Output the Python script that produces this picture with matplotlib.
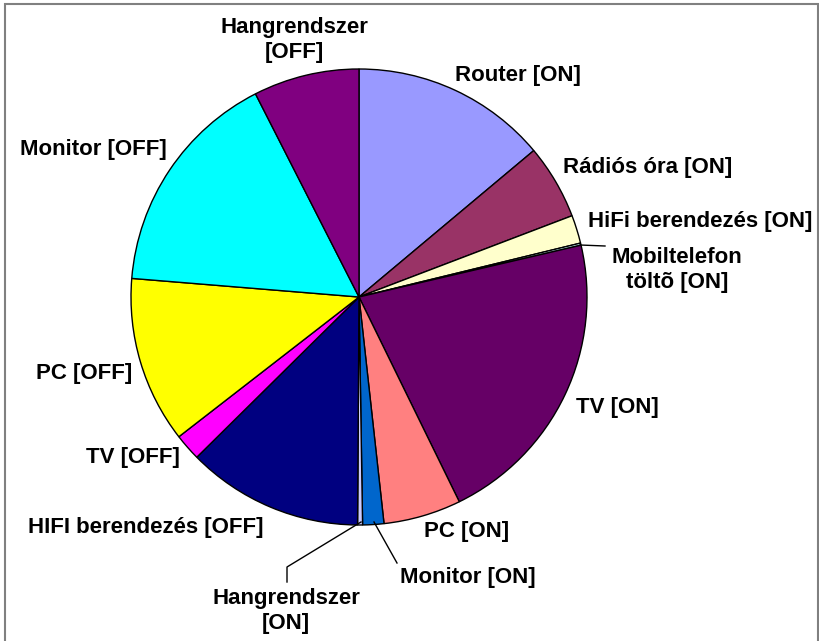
import matplotlib
matplotlib.use("Agg")
from matplotlib import pyplot as plt
from matplotlib.patches import Rectangle

plt.rcParams["font.family"] = ["Liberation Sans", "DejaVu Sans"]

# slices, clockwise from 12 o'clock (percent)
labels = ["Router [ON]", "Rádiós óra [ON]", "HiFi berendezés [ON]", "Mobiltelefon\ntöltõ [ON]",
          "TV [ON]", "PC [ON]", "Monitor [ON]", "Hangrendszer\n[ON]",
          "HIFI berendezés [OFF]", "TV [OFF]", "PC [OFF]", "Monitor [OFF]", "Hangrendszer\n[OFF]"]
values = [13.9, 5.3, 2.0, 0.15, 21.4, 5.5, 1.5, 0.35, 12.5, 1.9, 11.8, 16.2, 7.5]
colors = ["#9999ff", "#993366", "#ffffcc", "#ccffff", "#660066", "#ff8080", "#0066cc",
          "#ccccff", "#000080", "#ff00ff", "#ffff00", "#00ffff", "#800080"]

# label centres in pixel coords (x, y from top)
label_pos = [(518, 75), (648, 167), (700, 221), (677, 270), (617, 407), (467, 532), (468, 578),
             (286, 611), (146, 527), (133, 458), (84, 374), (93, 149), (294, 40)]

W, H = 820, 641
fig = plt.figure(figsize=(8.2, 6.41), dpi=100)
ax = fig.add_axes([0, 0, 1, 1])

cx, cy, r = 359, H - 297, 228
ax.pie(values, colors=colors, startangle=90, counterclock=False, center=(cx, cy), radius=r,
       wedgeprops=dict(edgecolor="black", linewidth=1), frame=False)
ax.set_xlim(0, W)
ax.set_ylim(0, H)
ax.set_aspect("auto")
ax.axis("off")

for lab, (x, y) in zip(labels, label_pos):
    ax.text(x, H - y, lab, ha="center", va="center", fontsize=16, fontweight="bold",
            linespacing=1.22)

# leader lines
ax.plot([580, 605], [H - 245, H - 246], color="black", lw=1)
ax.plot([361, 287, 287], [H - 522, H - 567, H - 582], color="black", lw=1)
ax.plot([374, 397], [H - 522, H - 563], color="black", lw=1)

ax.add_patch(Rectangle((5, -10), 813, H - 4 + 10, fill=False, edgecolor="#808080", lw=1.5))

plt.savefig("out.png", dpi=100)
plt.close()
